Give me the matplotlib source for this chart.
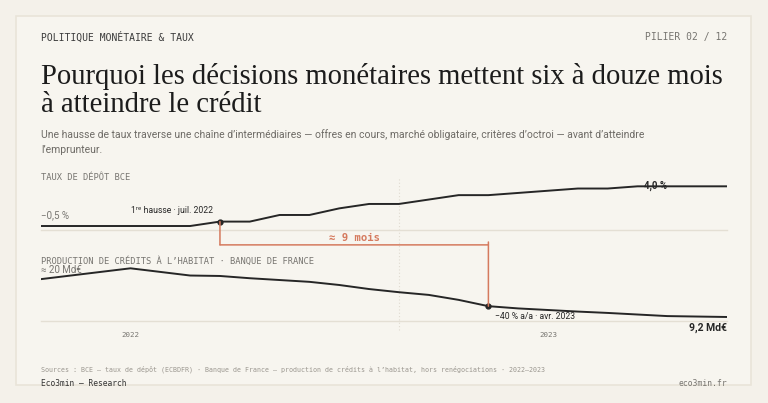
import matplotlib as mpl
import matplotlib.pyplot as plt
from matplotlib.patches import Rectangle, ConnectionPatch
from matplotlib.transforms import blended_transform_factory
import numpy as np

mpl.rcParams['font.family'] = ['Roboto', 'DejaVu Sans']

# monthly data, Jan 2022 -> Dec 2023
months = ['2022-01', '2022-02', '2022-03', '2022-04', '2022-05', '2022-06',
          '2022-07', '2022-08', '2022-09', '2022-10', '2022-11', '2022-12',
          '2023-01', '2023-02', '2023-03', '2023-04', '2023-05', '2023-06',
          '2023-07', '2023-08', '2023-09', '2023-10', '2023-11', '2023-12']
depot_rate = [-0.5, -0.5, -0.5, -0.5, -0.5, -0.5,
              0.0, 0.0, 0.75, 0.75, 1.5, 2.0,
              2.0, 2.5, 3.0, 3.0, 3.25, 3.5,
              3.75, 3.75, 4.0, 4.0, 4.0, 4.0]
credit_prod = [17.6, 18.4, 19.2, 20.0, 19.2, 18.4,
               18.3, 17.8, 17.4, 17.0, 16.3, 15.4,
               14.7, 14.1, 13.0, 11.6, 11.1, 10.75,
               10.4, 10.1, 9.75, 9.4, 9.3, 9.2]
year_labels = ['2022', '2023']
year_label_pos = [3, 17]
first_hike = 6      # juil. 2022
credit_hit = 15     # avr. 2023

BG = '#f4f1ea'
CARD = '#f7f5ef'
INK = '#262626'
GREY = '#777570'
ORANGE = '#d57a5e'
MONO = 'DejaVu Sans Mono'

W, H = 768, 403
fig = plt.figure(figsize=(W / 100, H / 100), dpi=100)
fig.patch.set_facecolor(BG)


def px(x, y):
    return x / W, 1 - y / H


def ax_rect(x0, y0, x1, y1):
    return [x0 / W, 1 - y1 / H, (x1 - x0) / W, (y1 - y0) / H]


# card
fig.patches.append(Rectangle(px(16, 385), (751 - 16) / W, (385 - 16) / H,
                             transform=fig.transFigure, facecolor=CARD,
                             edgecolor='#e9e4d9', lw=1.2, zorder=-5))

# header
fig.text(*px(41, 37), 'POLITIQUE MONÉTAIRE & TAUX', family=MONO, fontsize=7.0,
         color='#3a3a3a', va='center')
fig.text(*px(727, 37), 'PILIER 02 / 12', family=MONO, fontsize=7.0,
         color=GREY, ha='right', va='center')
fig.text(*px(41, 112), 'Pourquoi les décisions monétaires mettent six à douze mois\nà atteindre le crédit',
         family='Liberation Serif', fontsize=20.6, color='#1c1c1c', va='baseline',
         linespacing=1.12)
fig.text(*px(41, 153), "Une hausse de taux traverse une chaîne d’intermédiaires — offres en cours, marché obligataire, critères d’octroi — avant d’atteindre\nl’emprunteur.",
         fontsize=7.5, color='#6e6b66', va='baseline', linespacing=1.6)

x = np.arange(len(months))

# top panel: ECB deposit rate
ax1 = fig.add_axes(ax_rect(41, 182, 727, 230))
ax1.plot(x, depot_rate, color=INK, lw=1.4, solid_joinstyle='round', zorder=3)
ax1.plot(first_hike, depot_rate[first_hike], 'o', color=INK, ms=3.5, zorder=4)
ax1.set_xlim(0, len(months) - 1)
ax1.set_ylim(-0.953, 4.49)

# bottom panel: housing credit production
ax2 = fig.add_axes(ax_rect(41, 262, 727, 321))
ax2.plot(x, credit_prod, color=INK, lw=1.4, solid_joinstyle='round', zorder=3)
ax2.plot(credit_hit, credit_prod[credit_hit], 'o', color=INK, ms=3.5, zorder=4)
ax2.set_xlim(0, len(months) - 1)
ax2.set_ylim(8.31, 21.4)

for ax in (ax1, ax2):
    ax.set_facecolor('none')
    for s in ax.spines.values():
        s.set_visible(False)
    ax.set_xticks([])
    ax.set_yticks([])
    ax.axhline(ax.get_ylim()[0], color='#e4dfd4', lw=1.0, clip_on=False)

# year boundary, dotted across both panels
ax1.axvline(12, ymin=-2.08, ymax=1.08, color='#e0dbd0', lw=0.8, ls=(0, (1, 2)),
            clip_on=False, zorder=1)

# panel labels
fig.text(*px(41, 178), 'TAUX DE DÉPÔT BCE', family=MONO, fontsize=6.3,
         color=GREY, va='center')
fig.text(*px(41, 261), 'PRODUCTION DE CRÉDITS À L’HABITAT · BANQUE DE FRANCE',
         family=MONO, fontsize=6.3, color=GREY, va='center')
ax1.annotate('−0,5 %', (0, depot_rate[0]), xytext=(0, 4), textcoords='offset points',
             fontsize=7, color=GREY, va='bottom', ha='left')
ax2.annotate('≈ 20 Md€', (0, 20.0), xytext=(0, -1), textcoords='offset points',
             fontsize=7, color=GREY, va='center', ha='left')
ax1.annotate('1ʳᵉ hausse · juil. 2022', (first_hike, depot_rate[first_hike]),
             xytext=(-5, 5), textcoords='offset points', fontsize=6.2,
             color=INK, ha='right', va='bottom')
ax1.annotate('4,0 %', (20.6, depot_rate[-1]), fontsize=7, fontweight='bold',
             color=INK, ha='center', va='center', zorder=5)
ax2.annotate('−40 % a/a · avr. 2023', (credit_hit, credit_prod[credit_hit]),
             xytext=(5, -4), textcoords='offset points', fontsize=6.2,
             color=INK, ha='left', va='top')
ax2.annotate('9,2 Md€', (len(months) - 1, credit_prod[-1]), xytext=(0, -4),
             textcoords='offset points', fontsize=7.5, fontweight='bold',
             color=INK, ha='right', va='top')

# lag bracket between the first hike and the credit drop
bl = blended_transform_factory(ax1.transData, ax1.transAxes)
br_y = -0.31
for xyA, cA, xyB, cB, axB in [
        ((first_hike, depot_rate[first_hike]), ax1.transData, (first_hike, br_y), bl, ax1),
        ((first_hike, br_y), bl, (credit_hit, br_y), bl, ax1),
        ((credit_hit, br_y + 0.06), bl, (credit_hit, credit_prod[credit_hit]), ax2.transData, ax2)]:
    con = ConnectionPatch(xyA, xyB, coordsA=cA, coordsB=cB, axesA=ax1, axesB=axB,
                          color=ORANGE, lw=1.1, zorder=2)
    fig.add_artist(con)
ax1.text((first_hike + credit_hit) / 2, br_y + 0.15, '≈ 9 mois', transform=bl,
         family=MONO, fontsize=7.6, fontweight='bold', color=ORANGE,
         ha='center', va='center')

# year labels
for lab, pos in zip(year_labels, year_label_pos):
    ax2.text(pos, -0.24, lab, transform=blended_transform_factory(ax2.transData, ax2.transAxes),
             family=MONO, fontsize=5.4, color=GREY, ha='center', va='center')

# footer
fig.text(*px(41, 369), 'Sources : BCE — taux de dépôt (ECBDFR) · Banque de France — production de crédits à l’habitat, hors renégociations · 2022–2023',
         family=MONO, fontsize=4.8, color='#9a968f', va='center')
fig.text(*px(41, 383), 'Eco3min — Research', family=MONO, fontsize=5.7,
         color='#333333', va='center')
fig.text(*px(727, 383), 'eco3min.fr', family=MONO, fontsize=5.8,
         color=GREY, ha='right', va='center')

fig.savefig('out.png', dpi=100, facecolor=BG)
